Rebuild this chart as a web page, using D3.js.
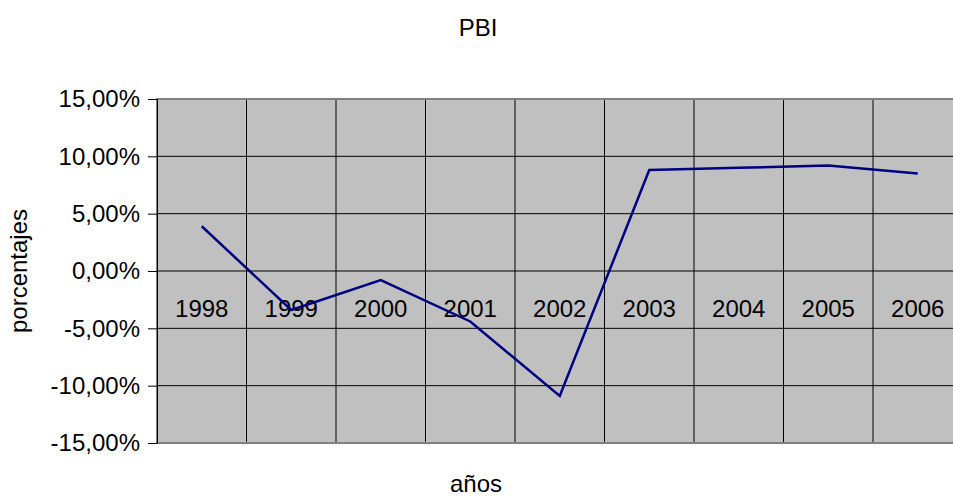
<!DOCTYPE html>
<html><head><meta charset="utf-8">
<script src="https://cdn.jsdelivr.net/npm/d3@7"></script>
<style>
body{margin:0;background:#fff;}
text{font-family:"Liberation Sans",Arial,sans-serif;}
</style></head>
<body>
<svg id="c" width="953" height="496"></svg>
<script>
const years = ["1998","1999","2000","2001","2002","2003","2004","2005","2006"];
const pbi = [3.9, -3.4, -0.8, -4.4, -10.9, 8.8, 9.0, 9.2, 8.5];
const yTicks = [-15, -10, -5, 0, 5, 10, 15];

(function () {
const svg = d3.select("#c");
const pLeft = 157, pTop = 99, pBottom = 443, bandW = 89.5;
const pRight = pLeft + bandW * years.length;

const x = d3.scaleBand().domain(years).range([pLeft, pRight]).paddingInner(0).paddingOuter(0);
const y = d3.scaleLinear().domain([-15, 15]).range([pBottom, pTop]);

svg.append("rect").attr("x", pLeft).attr("y", pTop).attr("width", pRight - pLeft).attr("height", pBottom - pTop)
  .attr("fill", "#c0c0c0");

svg.append("g").selectAll("line").data(yTicks.slice(1, -1)).join("line")
  .attr("x1", pLeft).attr("x2", pRight).attr("y1", d => y(d)).attr("y2", d => y(d))
  .attr("stroke", "#000").attr("stroke-width", 1);

svg.append("g").selectAll("line").data(years.slice(1)).join("line")
  .attr("x1", d => x(d)).attr("x2", d => x(d)).attr("y1", pTop).attr("y2", pBottom)
  .attr("stroke", "#000").attr("stroke-width", 1);

svg.append("rect").attr("x", pLeft).attr("y", pTop).attr("width", pRight - pLeft).attr("height", pBottom - pTop)
  .attr("fill", "none").attr("stroke", "#808080").attr("stroke-width", 2);

const yAxis = d3.axisLeft(y).tickValues(yTicks).tickSize(9).tickPadding(8)
  .tickFormat(d => d3.format(".2f")(d).replace(".", ",").replace("\u2212", "-") + "%");
const ya = svg.append("g").attr("transform", `translate(${pLeft},0)`).call(yAxis);
ya.select(".domain").attr("stroke", "#000");
ya.selectAll(".tick line").attr("stroke", "#000");
ya.selectAll("text").attr("font-size", 24).attr("fill", "#000")
  .style("font-family", "'Liberation Sans',Arial,sans-serif");

const xAxis = d3.axisBottom(x).tickSize(0).tickPadding(29);
const xa = svg.append("g").attr("transform", `translate(0,${y(0)})`).call(xAxis);
xa.select(".domain").remove();
xa.selectAll("text").attr("font-size", 24).attr("fill", "#000")
  .style("font-family", "'Liberation Sans',Arial,sans-serif");

const line = d3.line().x((d, i) => x(years[i]) + x.bandwidth() / 2).y(d => y(d));
svg.append("path").datum(pbi).attr("d", line).attr("fill", "none")
  .attr("stroke", "#000080").attr("stroke-width", 2.5).attr("stroke-linejoin", "miter");

svg.append("text").attr("x", 478).attr("y", 36).attr("text-anchor", "middle")
  .attr("font-size", 24).text("PBI");
svg.append("text").attr("x", 476).attr("y", 492).attr("text-anchor", "middle")
  .attr("font-size", 24).text("años");
svg.append("text").attr("transform", "translate(27,271) rotate(-90)").attr("text-anchor", "middle")
  .attr("font-size", 24).text("porcentajes");
})();
</script>
</body></html>
